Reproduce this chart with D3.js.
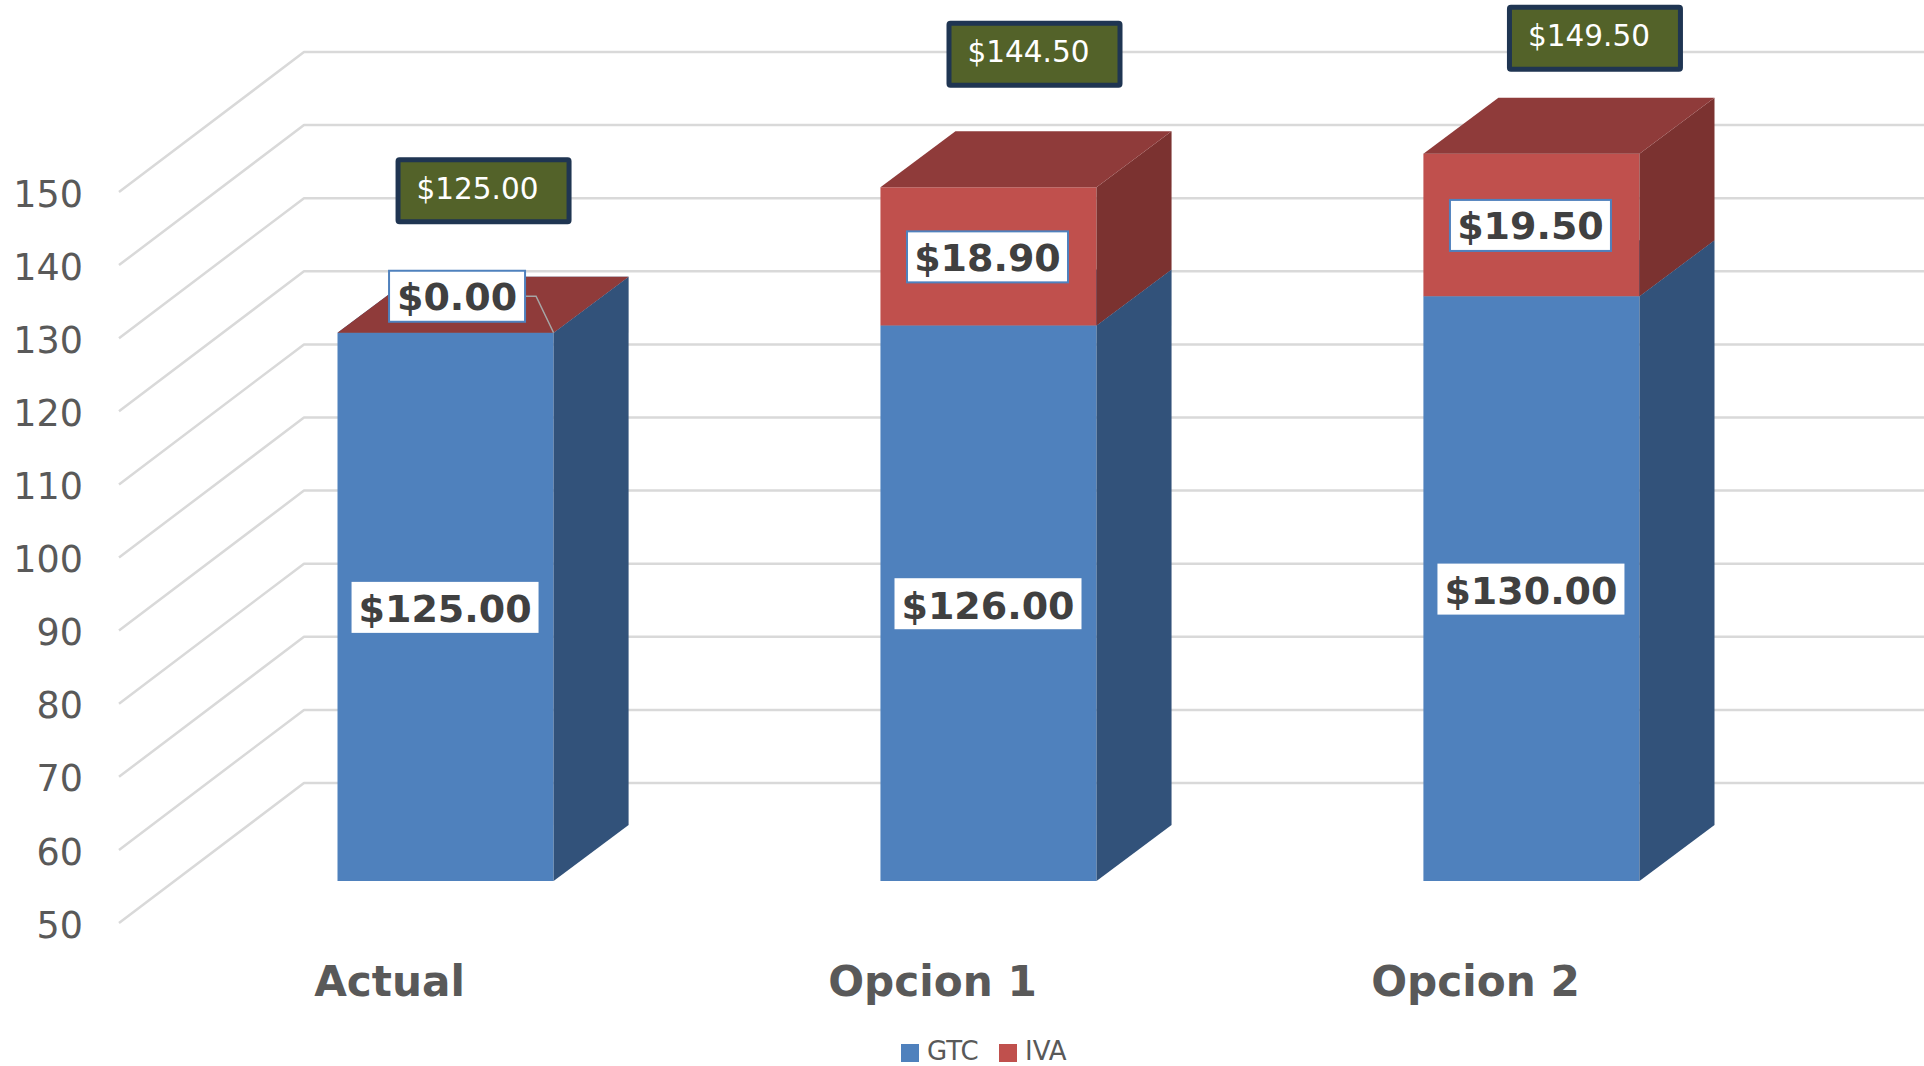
<!DOCTYPE html>
<html>
<head>
<meta charset="utf-8">
<script src="https://cdn.jsdelivr.net/npm/d3@7"></script>
<style>
  html, body { margin: 0; padding: 0; background: #fff; overflow: hidden; }
  svg { display: block; font-family: "DejaVu Sans", sans-serif; }
</style>
</head>
<body>
<div id="chart"></div>
<script>
// Chart values
const categories = ["Actual", "Opcion 1", "Opcion 2"];
const seriesNames = ["GTC", "IVA"];
const gtcValues = [125, 126, 130];
const ivaValues = [0, 18.9, 19.5];
const totalLabels = [125, 144.5, 149.5];
const yTicks = [50, 60, 70, 80, 90, 100, 110, 120, 130, 140, 150];

const width = 1924, height = 1066;

const svg = d3.select("#chart").append("svg")
  .attr("width", width)
  .attr("height", height);

// Scales for the front plane of the bars
const x = d3.scaleBand().domain(categories).range([337.5, 1639.5]).paddingInner(0.602).paddingOuter(0);
const y = d3.scaleLinear().domain([50, 150]).range([881, 150]);

// Fake 3D: depth of the bars and of the gaps in front of / behind them
const barDx = 75, barDy = 56;
const gapDy = 42;
const floorLeft = 119, floorDx = 185;

const money = d3.format("$.2f");

// Gridlines: floor-side edge, then the back wall
const grid = svg.append("g")
  .attr("fill", "none")
  .attr("stroke", "#d9d9d9")
  .attr("stroke-width", 2.5)
  .attr("stroke-linejoin", "round");

yTicks.forEach(v => {
  const frontY = y(v) + gapDy;
  const backY = frontY - gapDy * 2 - barDy;
  grid.append("path").attr("d", d3.line()([[floorLeft, frontY], [floorLeft + floorDx, backY], [width, backY]]));
});

// Value axis, shifted down to the front edge of the floor
const yAxis = svg.append("g")
  .attr("transform", `translate(95,${gapDy + 2.5})`)
  .call(d3.axisLeft(y).tickValues(yTicks).tickSize(0).tickPadding(12));
yAxis.select(".domain").remove();
yAxis.selectAll("text")
  .attr("font-family", '"DejaVu Sans", sans-serif')
  .attr("font-size", 36.5)
  .attr("fill", "#595959");

// Category axis
const xAxis = svg.append("g")
  .attr("transform", "translate(-56,996)")
  .call(d3.axisBottom(x).tickSize(0).tickPadding(0));
xAxis.select(".domain").remove();
xAxis.selectAll("text")
  .attr("y", 0)
  .attr("dy", 0)
  .attr("font-family", '"DejaVu Sans", sans-serif')
  .attr("font-size", 42.2)
  .attr("font-weight", "bold")
  .attr("fill", "#595959");

// Draw one stacked box: front, side, top
const colors = {
  GTC: { front: "#4f81bd", side: "#32527a", top: "#3f6797" },
  IVA: { front: "#c0504d", side: "#7b3230", top: "#8f3b3a" }
};

function drawBox(cat, low, high, c) {
  const x0 = x(cat), x1 = x0 + x.bandwidth();
  const yLow = y(low), yHigh = y(high);
  svg.append("rect")
    .attr("x", x0).attr("y", yHigh)
    .attr("width", x.bandwidth()).attr("height", yLow - yHigh)
    .attr("fill", c.front);
  svg.append("path")
    .attr("d", d3.line()([[x1, yLow], [x1 + barDx, yLow - barDy], [x1 + barDx, yHigh - barDy], [x1, yHigh]]) + "Z")
    .attr("fill", c.side);
  svg.append("path")
    .attr("d", d3.line()([[x0, yHigh], [x0 + barDx, yHigh - barDy], [x1 + barDx, yHigh - barDy], [x1, yHigh]]) + "Z")
    .attr("fill", c.top);
}

categories.forEach((cat, i) => {
  drawBox(cat, 50, gtcValues[i], colors.GTC);
  drawBox(cat, gtcValues[i], gtcValues[i] + ivaValues[i], colors.IVA);
});

// Boxed labels
function boxLabel(cx, cy, w, h, text, opt) {
  svg.append("rect")
    .attr("x", cx - w / 2).attr("y", cy - h / 2)
    .attr("width", w).attr("height", h)
    .attr("rx", opt.rx || 0)
    .attr("fill", opt.fill)
    .attr("stroke", opt.stroke || "none")
    .attr("stroke-width", opt.strokeWidth || 0);
  svg.append("text")
    .attr("x", cx + (opt.textDx || 0)).attr("y", cy)
    .attr("dy", opt.dy)
    .attr("text-anchor", "middle")
    .attr("font-size", opt.size)
    .attr("font-weight", opt.weight)
    .attr("fill", opt.color)
    .text(text);
}

const center = cat => x(cat) + x.bandwidth() / 2;

// The zero IVA label was dragged off its bar, so it gets a leader line
const zeroNudge = [11.5, -36.5];
// Total boxes sit by hand above the stacks
const totalNudge = [[38, -142], [46, -136], [63.5, -115.5]];

categories.forEach((cat, i) => {
  const cx = center(cat);
  boxLabel(cx - 0.5, y(50 + (gtcValues[i] - 50) / 2) + 0.5, 187, 51, money(gtcValues[i]), {
    fill: "#fff", size: 38, weight: "bold", color: "#404040", dy: "0.39em"
  });

  const top = gtcValues[i] + ivaValues[i];
  const mid = gtcValues[i] + ivaValues[i] / 2;
  const isZero = ivaValues[i] === 0;
  const lx = cx + (isZero ? zeroNudge[0] : -1);
  const ly = y(mid) + (isZero ? zeroNudge[1] : 0.5);
  const lw = isZero ? 136 : 161;
  if (isZero) {
    svg.append("path")
      .attr("d", d3.line()([[lx + lw / 2, ly], [lx + lw / 2 + 11, ly], [x(cat) + x.bandwidth(), y(top)]]))
      .attr("fill", "none")
      .attr("stroke", "#a6a6a6")
      .attr("stroke-width", 1.5);
  }
  boxLabel(lx, ly, lw, 51, money(ivaValues[i]), {
    fill: "#fff", stroke: "#4f81bd", strokeWidth: 2, size: 38, weight: "bold", color: "#404040", dy: "0.37em"
  });

  boxLabel(cx + totalNudge[i][0], y(totalLabels[i]) + totalNudge[i][1], 171, 62, money(totalLabels[i]), {
    fill: "#536229", stroke: "#1f3552", strokeWidth: 5, rx: 1.5, size: 29.5, weight: "normal", color: "#fff", textDx: -6, dy: "0.28em"
  });
});

// Legend
const legendX = d3.scalePoint().domain(seriesNames).range([901, 999]);
seriesNames.forEach(name => {
  svg.append("rect")
    .attr("x", legendX(name)).attr("y", 1044)
    .attr("width", 18).attr("height", 18)
    .attr("fill", colors[name].front);
  svg.append("text")
    .attr("x", legendX(name) + 26).attr("y", 1059.8)
    .attr("font-size", 26)
    .attr("fill", "#595959")
    .text(name);
});
</script>
</body>
</html>
